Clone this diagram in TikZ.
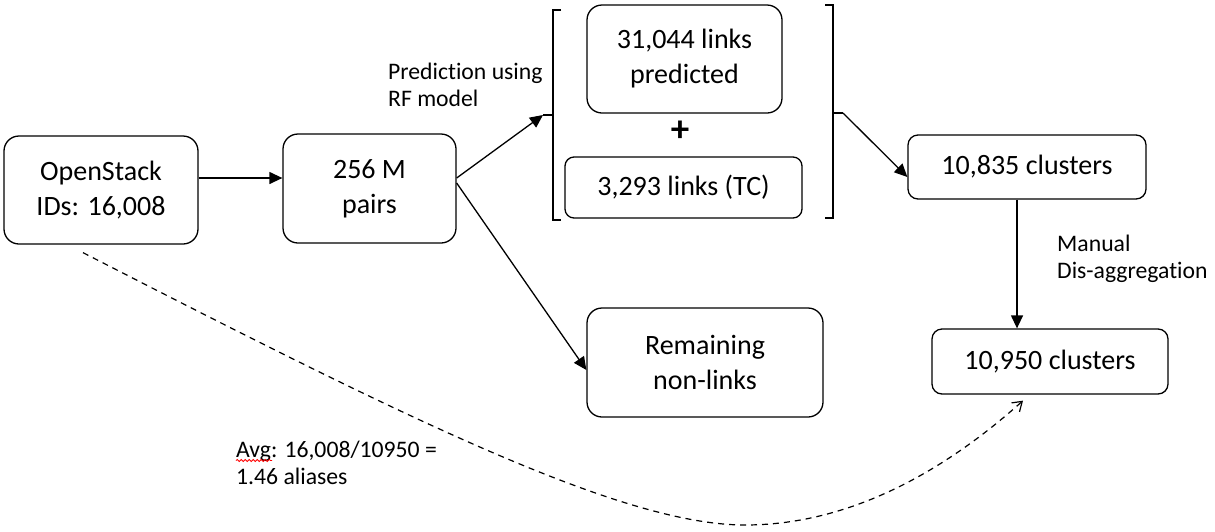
\documentclass[tikz,border=0pt]{standalone}
\usepackage{fontspec}
\setmainfont{Carlito}[Ligatures=NoCommon]
\usetikzlibrary{arrows.meta,decorations.pathmorphing}

\newcommand{\boxfont}{\fontsize{28}{35}\selectfont}
\newcommand{\labelfont}{\fontsize{23.7}{27}\selectfont}

\tikzset{
  stagebox/.style={draw, line width=1.3pt, rounded corners=15pt, align=center,
    font=\boxfont, inner sep=0pt},
  flatbox/.style={stagebox, rounded corners=9pt},
  note/.style={anchor=west, align=left, font=\labelfont, inner sep=0pt},
  flow/.style={line width=1.3pt, -{Triangle[length=13pt,width=12pt]}},
  bracket/.style={line width=1.3pt},
  ratio/.style={line width=1.2pt, dashed, dash pattern=on 6pt off 5pt,
    -{Straight Barb[length=9pt,width=12pt,line width=1.2pt]}}
}

\begin{document}
\begin{tikzpicture}[x=1pt, y=-1pt]
  \useasboundingbox (0,0) rectangle (1215,531);

  % stages of the pipeline
  \node[stagebox, minimum width=194pt, minimum height=108pt] (os) at (101,190)
    {OpenStack\\IDs: 16,008};
  \node[stagebox, minimum width=173pt, minimum height=109pt] (pairs) at (369.5,188.5)
    {256 M\\pairs};
  \node[stagebox, minimum width=195pt, minimum height=108pt] (pred) at (684.5,59)
    {31,044 links\\predicted};
  \node[font=\fontsize{37}{37}\selectfont\bfseries, inner sep=0pt] (plus) at (680,131) {+};
  \node[flatbox, minimum width=237pt, minimum height=61pt] (tc) at (683.5,187.5)
    {3,293 links (TC)};
  \node[flatbox, rounded corners=10pt, minimum width=238pt, minimum height=64pt] (c1)
    at (1027,167) {10,835 clusters};
  \node[flatbox, rounded corners=10pt, minimum width=236pt, minimum height=65pt] (c2)
    at (1050,361.5) {10,950 clusters};
  \node[stagebox, minimum width=236pt, minimum height=109pt] (rem) at (705,362.5)
    {Remaining\\non-links};

  % side notes
  \node[note] (rf) at (388,84.5) {Prediction using\\RF model};
  \node[note] (manual) at (1057,258.5) {Manual\\Dis-aggregation};
  \node[note] (avg) at (236,463) {Avg: 16,008/10950 =\\1.46 aliases};
  \draw[red, line width=0.8pt, decorate,
        decoration={snake, amplitude=1.1pt, segment length=4pt}]
    (236,460.5) -- (272,460.5);

  % brackets around the link sets
  \coordinate (lin) at (543,115);
  \coordinate (rout) at (843,113);
  \draw[bracket] (561,10) -- (553,10) -- (553,220) -- (561,220);
  \draw[bracket] (553,115) -- (lin);
  \draw[bracket] (825,5) -- (833,5) -- (833,218) -- (825,218);
  \draw[bracket] (833,113) -- (rout);

  % connectors
  \draw[flow] ([yshift=12pt]os.east) -- ([yshift=10.5pt]pairs.west);
  \draw[flow] ([yshift=10.5pt]pairs.east) -- (lin);
  \draw[flow] ([yshift=5.5pt]pairs.east) -- ([yshift=-7.5pt]rem.west);
  \draw[flow] (rout) -- ([yshift=-10pt]c1.west);
  \draw[flow] ([xshift=-10pt]c1.south) -- ([xshift=-33pt]c2.north);

  % average aliases per cluster
  \draw[ratio] ([xshift=-18pt,yshift=-8pt]os.south)
    .. controls (400,415) and (620,525) .. (745,525)
    .. controls (870,525) and (970,448) .. ([xshift=-27pt,yshift=-6pt]c2.south);
\end{tikzpicture}
\end{document}
